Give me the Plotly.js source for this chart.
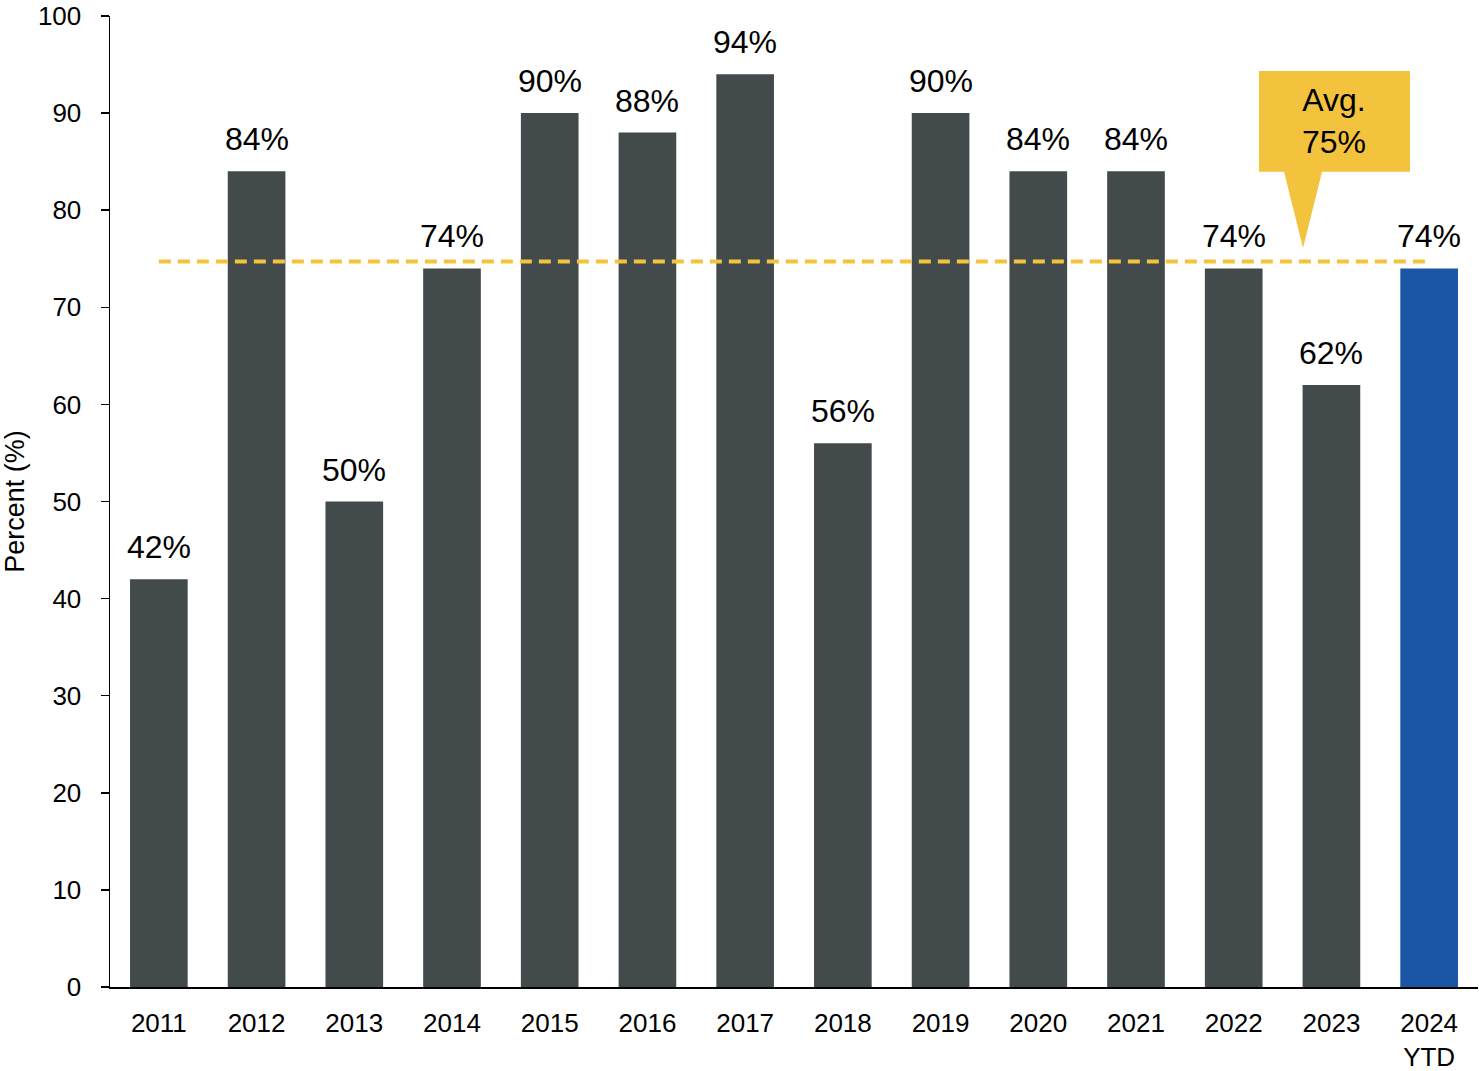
<!DOCTYPE html>
<html>
<head>
<meta charset="utf-8">
<script src="https://cdn.plot.ly/plotly-3.0.1.min.js"></script>
<style>html,body{margin:0;padding:0;background:#fff;}#chart{width:1479px;height:1071px;}</style>
</head>
<body>
<div id="chart"></div>
<script>
const categories = ["2011","2012","2013","2014","2015","2016","2017","2018","2019","2020","2021","2022","2023","2024 YTD"];
const tickLabels = ["2011","2012","2013","2014","2015","2016","2017","2018","2019","2020","2021","2022","2023","2024<br>YTD"];
const values = [42,84,50,74,90,88,94,56,90,84,84,74,62,74];
const barColors = ["#424a4b","#424a4b","#424a4b","#424a4b","#424a4b","#424a4b","#424a4b","#424a4b","#424a4b","#424a4b","#424a4b","#424a4b","#424a4b","#1a56a5"];

const avg = values.reduce((a,b)=>a+b,0)/values.length;
const FONT = "Liberation Sans, Arial, Helvetica, sans-serif";
const YELLOW = "#f3c33e";

const bar = {
  type: "bar",
  x: categories,
  y: values,
  marker: {color: barColors},
  width: 0.59,
  hoverinfo: "x+y"
};

const avgLine = {
  type: "scatter",
  mode: "lines",
  x: [categories[0], categories[categories.length-1]],
  y: [avg, avg],
  line: {color: YELLOW, width: 4, dash: "12px,7px"},
  hoverinfo: "skip"
};

const labelAnnotations = categories.map((c,i)=>({
  x: i, y: values[i], xref: "x", yref: "y",
  text: values[i] + "%", showarrow: false,
  yanchor: "bottom", yshift: 12,
  font: {family: FONT, size: 32, color: "#000"}
}));

// callout box (paper x, data y)
const calloutPath = "M 0.8399 94.33 L 0.9503 94.33 L 0.9503 83.96 L 0.886 83.96 L 0.8721 76.1 L 0.8582 83.96 L 0.8399 83.96 Z";

const layout = {
  width: 1479, height: 1071,
  margin: {l: 110, r: 1, t: 16, b: 84},
  paper_bgcolor: "#fff", plot_bgcolor: "#fff",
  showlegend: false,
  font: {family: FONT, color: "#000"},
  bargap: 0.41,
  xaxis: {
    type: "category",
    tickvals: categories, ticktext: tickLabels,
    showline: true, linecolor: "#000", linewidth: 1.5,
    ticks: "", showgrid: false, zeroline: false,
    tickfont: {family: FONT, size: 26, color: "#000"},
    ticklabelstandoff: 12,
    range: [-0.5, 13.5]
  },
  yaxis: {
    range: [0, 100], dtick: 10,
    showline: true, linecolor: "#000", linewidth: 1.5,
    ticks: "outside", ticklen: 8, tickwidth: 1.5, tickcolor: "#000",
    showgrid: false, zeroline: false,
    tickfont: {family: FONT, size: 26, color: "#000"},
    ticklabelstandoff: 14,
    title: {text: "Percent (%)", font: {family: FONT, size: 27, color: "#000"}, standoff: 8}
  },
  shapes: [{
    type: "path", xref: "paper", yref: "y", path: calloutPath,
    fillcolor: YELLOW, line: {width: 0}, layer: "above"
  }],
  annotations: labelAnnotations.concat([{
    xref: "paper", yref: "y", x: 0.8951, y: 89.15,
    text: "Avg.<br>" + Math.round(avg) + "%", showarrow: false,
    xanchor: "center", yanchor: "middle",
    font: {family: FONT, size: 32, color: "#000"}
  }])
};

Plotly.newPlot("chart", [bar, avgLine], layout, {displayModeBar: false, staticPlot: true});
</script>
</body>
</html>
